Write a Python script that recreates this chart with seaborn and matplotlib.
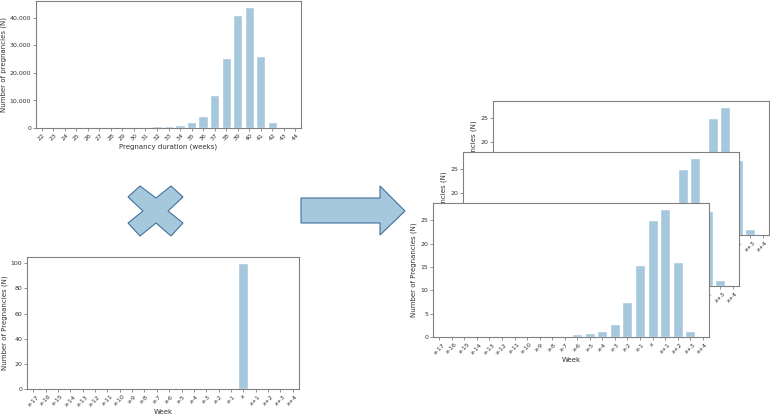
import matplotlib
matplotlib.use('Agg')
import matplotlib.pyplot as plt
import matplotlib.ticker as mticker
from matplotlib.patches import Polygon
import pandas as pd
import seaborn as sns

# --- data ---
weeks = ['22', '23', '24', '25', '26', '27', '28', '29', '30', '31', '32', '33',
         '34', '35', '36', '37', '38', '39', '40', '41', '42', '43', '44']
duration_counts = [100, 150, 80, 90, 100, 120, 130, 180, 220, 350, 600, 850,
                   1200, 2000, 4400, 12100, 25300, 40800, 43800, 26200, 2100, 0, 0]

rel_weeks = ['x-17', 'x-16', 'x-15', 'x-14', 'x-13', 'x-12', 'x-11', 'x-10', 'x-9',
             'x-8', 'x-7', 'x-6', 'x-5', 'x-4', 'x-3', 'x-2', 'x-1', 'x',
             'x+1', 'x+2', 'x+3', 'x+4']
onehot_counts = [0, 0, 0, 0, 0, 0, 0, 0, 0, 0, 0, 0, 0, 0, 0, 0, 0, 100, 0, 0, 0, 0]
shifted_counts = [0.1, 0.1, 0.05, 0.1, 0.1, 0.1, 0.1, 0.1, 0.15, 0.2, 0.3, 0.55,
                  0.85, 1.3, 2.85, 7.5, 15.35, 25.0, 27.35, 16.0, 1.3, 0.0]

BAR = '#a5c8dd'
EDGE = '#41719c'
W, H = 770, 418

sns.set_style('ticks')
plt.rcParams['font.family'] = ['DejaVu Sans']
plt.rcParams['axes.edgecolor'] = '0.5'
plt.rcParams['axes.linewidth'] = 0.8
plt.rcParams['xtick.color'] = '0.5'
plt.rcParams['ytick.color'] = '0.5'
plt.rcParams['xtick.labelcolor'] = '0.2'
plt.rcParams['ytick.labelcolor'] = '0.2'
plt.rcParams['xtick.major.size'] = 2
plt.rcParams['ytick.major.size'] = 2
plt.rcParams['xtick.major.width'] = 0.6
plt.rcParams['ytick.major.width'] = 0.6
plt.rcParams['xtick.major.pad'] = 1.5
plt.rcParams['ytick.major.pad'] = 1.5

fig = plt.figure(figsize=(W / 100, H / 100), dpi=100)


def add_ax(x0, y0, x1, y1):
    # pixel box (top-left origin) -> figure fraction
    return fig.add_axes([x0 / W, 1 - y1 / H, (x1 - x0) / W, (y1 - y0) / H])


def bars(ax, labels, values, xlabel, ylabel):
    df = pd.DataFrame({'week': labels, 'n': values})
    sns.barplot(data=df, x='week', y='n', color=BAR, saturation=1, width=0.8, ax=ax)
    ax.set_facecolor('white')
    ax.set_xlabel(xlabel, fontsize=5, color='0.2', labelpad=1)
    ax.set_ylabel(ylabel, fontsize=5, color='0.2', labelpad=2)
    ax.tick_params(axis='x', labelsize=4.5, rotation=45)
    ax.tick_params(axis='y', labelsize=4.5)
    for s in ax.spines.values():
        s.set_visible(True)


# top left: pregnancy duration
ax1 = add_ax(36, 1, 301, 128)
bars(ax1, weeks, duration_counts, 'Pregnancy duration (weeks)', 'Number of pregnancies (N)')
ax1.yaxis.set_major_formatter(mticker.FuncFormatter(lambda v, p: f'{v:,.0f}'))

# bottom left: one-hot week
ax2 = add_ax(27, 257, 299, 389)
bars(ax2, rel_weeks, onehot_counts, 'Week', 'Number of Pregnancies (N)')

# right: stacked copies of the smoothed distribution (back to front)
for box in [(493, 101, 769, 235), (463, 152, 739, 286), (433, 203, 709, 337)]:
    ax = add_ax(*box)
    bars(ax, rel_weeks, shifted_counts, 'Week', 'Number of Pregnancies (N)')


def px(x, y):
    return (x / W, 1 - y / H)


# multiplication cross
cross = [(128, 197), (140, 186), (156, 198), (171, 186), (183, 197), (168, 211),
         (183, 223), (171, 236), (156, 223), (140, 236), (128, 223), (143, 211)]
fig.patches.append(Polygon([px(*p) for p in cross], closed=True, facecolor=BAR,
                           edgecolor=EDGE, linewidth=0.8, transform=fig.transFigure))

# right arrow
arrow = [(301, 198), (380, 198), (380, 186), (405, 211), (380, 235), (380, 223), (301, 223)]
fig.patches.append(Polygon([px(*p) for p in arrow], closed=True, facecolor=BAR,
                           edgecolor=EDGE, linewidth=0.8, transform=fig.transFigure))

fig.savefig('out.png', dpi=100)
